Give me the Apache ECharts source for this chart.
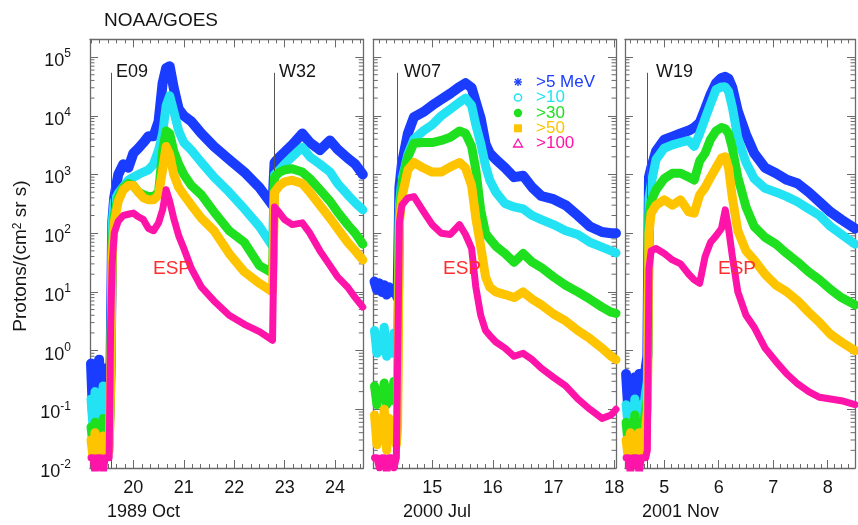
<!DOCTYPE html>
<html>
<head>
<meta charset="utf-8">
<title>NOAA/GOES proton events</title>
<script src="https://cdn.jsdelivr.net/npm/echarts@6/dist/echarts.min.js"></script>
<style>
  html, body { margin: 0; padding: 0; background: #fff; }
  #chart { width: 858px; height: 525px; }
</style>
</head>
<body>
<div id="chart"></div>
<script>
// channel names and colours (legend order)
const channelNames = ['>5 MeV', '>10', '>30', '>50', '>100'];
const channelColors = ['#1a3cff', '#22e2f4', '#1ee01e', '#ffc400', '#ff14aa'];

// ---- 1989 Oct ----
const p1Days = [19.16, 19.2, 19.24, 19.28, 19.32, 19.36, 19.4, 19.44, 19.48, 19.52,
  19.55, 19.58, 19.62, 19.7, 19.8, 19.9, 20.0, 20.1, 20.2, 20.3, 20.4, 20.5,
  20.58, 20.65, 20.72, 20.8, 20.9, 21.0, 21.15, 21.35, 21.6, 21.9, 22.2, 22.5,
  22.76, 22.8, 22.9, 23.0, 23.15, 23.35, 23.5, 23.7, 23.9, 24.05, 24.25, 24.4, 24.55];
const p1Gt5 = [0.6, 0.08, 0.4, 0.1, 0.7, 0.06, 0.5, 0.12, 0.3, 0.07,
  0.8, 150, 400, 1000, 1500, 1300, 2300, 2800, 3500, 4500, 4500, 8000,
  3.6e4, 6.5e4, 7e4, 3e4, 1.3e4, 1e4, 8000, 5000, 3000, 1800, 1100, 600,
  300, 1600, 2000, 2400, 3200, 5000, 3500, 2600, 3800, 2700, 1900, 1500, 1000];
const p1Gt10 = [0.15, 0.05, 0.2, 0.06, 0.12, 0.04, 0.25, 0.07, 0.1, 0.05,
  0.3, 150, 350, 480, 620, 800, 900, 1000, 1100, 1200, 1500, 2600,
  5000, 1.5e4, 2.2e4, 1.2e4, 5500, 3500, 2600, 1600, 900, 500, 260, 130,
  60, 1000, 1200, 1500, 2000, 2900, 2000, 1500, 1100, 700, 450, 330, 250];
const p1Gt30 = [0.05, 0.025, 0.06, 0.03, 0.04, 0.02, 0.07, 0.03, 0.05, 0.025,
  0.2, 60, 200, 400, 600, 700, 650, 500, 450, 420, 420, 500,
  2500, 5500, 5000, 2500, 1500, 1000, 650, 450, 230, 110, 70, 28,
  21, 900, 1100, 1200, 1250, 1100, 850, 550, 350, 230, 140, 100, 65];
const p1Gt50 = [0.03, 0.015, 0.04, 0.02, 0.025, 0.015, 0.035, 0.02, 0.03, 0.02,
  0.3, 40, 150, 350, 550, 650, 650, 500, 400, 370, 370, 450,
  1200, 3000, 2200, 1000, 600, 450, 300, 180, 110, 45, 22, 14,
  10, 500, 650, 750, 800, 700, 500, 300, 180, 120, 70, 50, 35];
const p1Gt100 = [0.015, 0.015, 0.008, 0.015, 0.015, 0.015, 0.008, 0.015, 0.015, 0.015,
  3, 30, 100, 160, 200, 210, 220, 190, 170, 120, 110, 150,
  250, 550, 350, 180, 90, 55, 25, 12, 7, 4, 2.8, 2.1,
  1.5, 280, 220, 170, 140, 150, 100, 50, 28, 18, 12, 8, 5.5];
const p1FlareDays = [19.56, 22.79];
const p1FlareLow = [0.01, 1.4];

// ---- 2000 Jul ----
const p2Days = [14.05, 14.09, 14.13, 14.17, 14.21, 14.25, 14.29, 14.33, 14.37, 14.41,
  14.43, 14.46, 14.5, 14.6, 14.7, 14.85, 15.0, 15.15, 15.3, 15.45, 15.55,
  15.65, 15.72, 15.8, 15.88, 15.95, 16.05, 16.2, 16.35, 16.5, 16.65,
  16.8, 17.0, 17.2, 17.4, 17.6, 17.8, 17.95, 18.03];
const p2Gt5 = [15, 11, 14, 10, 13, 9, 12, 10, 11, 9,
  8, 600, 1500, 5000, 9500, 1.15e4, 1.5e4, 1.9e4, 2.4e4, 3.1e4, 3.6e4,
  3e4, 1.7e4, 9000, 3300, 2300, 1800, 1300, 900, 950, 600,
  430, 380, 300, 200, 130, 105, 100, 100];
const p2Gt10 = [2.2, 0.9, 1.8, 1.0, 2.5, 0.8, 1.5, 0.9, 2.0, 1.0,
  1.2, 300, 800, 2200, 4000, 5500, 7000, 1e4, 1.3e4, 1.7e4, 2e4,
  1.5e4, 7000, 3400, 1400, 800, 500, 320, 280, 260, 200,
  170, 140, 110, 95, 70, 58, 50, 46];
const p2Gt30 = [0.25, 0.12, 0.2, 0.15, 0.28, 0.12, 0.22, 0.14, 0.3, 0.15,
  0.2, 200, 700, 2000, 3400, 3500, 3500, 3800, 4300, 5500, 5000,
  3000, 1200, 250, 100, 80, 60, 45, 32, 45, 32,
  26, 18, 13, 10, 7.5, 5.5, 4.5, 4.3];
const p2Gt50 = [0.08, 0.025, 0.06, 0.03, 0.1, 0.02, 0.07, 0.03, 0.05, 0.025,
  0.05, 150, 400, 1200, 1600, 1300, 1100, 1100, 1350, 1600, 1300,
  650, 180, 60, 18, 12, 10, 9, 8, 10, 7.5,
  6, 4.2, 3.2, 2.2, 1.6, 1.1, 0.8, 0.7];
const p2Gt100 = [0.015, 0.015, 0.01, 0.015, 0.015, 0.008, 0.015, 0.015, 0.01, 0.015,
  0.015, 150, 300, 400, 420, 240, 140, 100, 95, 140, 95,
  55, 12, 4, 2.2, 1.8, 1.4, 1.1, 0.8, 0.9, 0.7,
  0.5, 0.35, 0.25, 0.15, 0.1, 0.07, 0.08, 0.1];
const p2FlareDays = [14.43];
const p2FlareLow = [0.01];

// ---- 2001 Nov ----
const p3Days = [4.3, 4.34, 4.38, 4.42, 4.46, 4.5, 4.54, 4.58, 4.62, 4.66,
  4.69, 4.72, 4.76, 4.85, 5.0, 5.15, 5.3, 5.45, 5.55, 5.65, 5.75,
  5.85, 5.95, 6.05, 6.12, 6.18, 6.25, 6.35, 6.5, 6.65, 6.85,
  7.05, 7.25, 7.45, 7.65, 7.85, 8.05, 8.25, 8.5];
const p3Gt5 = [0.4, 0.1, 0.3, 0.08, 0.35, 0.1, 0.4, 0.15, 0.3, 0.5,
  0.8, 900, 1300, 2500, 3900, 4400, 5000, 5600, 6300, 7600, 1.3e4,
  2.3e4, 3.6e4, 4.4e4, 4.6e4, 4.3e4, 3e4, 1.2e4, 4800, 2300, 1300,
  1050, 810, 700, 500, 340, 230, 170, 120];
const p3Gt10 = [0.12, 0.05, 0.1, 0.04, 0.15, 0.05, 0.12, 0.06, 0.1, 0.2,
  0.3, 400, 700, 1800, 2800, 3200, 3500, 3800, 3000, 5000, 9000,
  1.6e4, 2.8e4, 3.1e4, 3.1e4, 2.6e4, 1.4e4, 4200, 1600, 850, 580,
  500, 420, 340, 260, 200, 130, 95, 65];
const p3Gt30 = [0.06, 0.025, 0.05, 0.02, 0.08, 0.03, 0.06, 0.03, 0.05, 0.1,
  0.15, 200, 350, 550, 850, 1050, 1050, 900, 800, 1700, 2300,
  4000, 5500, 6300, 6000, 5000, 2800, 900, 280, 130, 85,
  65, 45, 32, 22, 16, 11, 8, 6];
const p3Gt50 = [0.03, 0.015, 0.04, 0.015, 0.025, 0.02, 0.04, 0.015, 0.03, 0.05,
  0.1, 100, 220, 300, 370, 300, 370, 230, 220, 450, 600,
  900, 1300, 1900, 2000, 1300, 400, 110, 50, 35, 20,
  13, 10, 7, 4.5, 3, 1.9, 1.4, 1.0];
const p3Gt100 = [0.015, 0.015, 0.008, 0.015, 0.015, 0.015, 0.008, 0.015, 0.015, 0.015,
  0.02, 25, 50, 55, 45, 35, 30, 20, 16, 14, 40,
  70, 90, 120, 250, 120, 40, 10, 4, 2.5, 1.1,
  0.65, 0.4, 0.27, 0.2, 0.16, 0.15, 0.14, 0.12];
const p3FlareDays = [4.69];
const p3FlareLow = [0.01];

const FONT = 'Liberation Sans, Arial, Helvetica, sans-serif';
const AXIS = '#6a6a6a';
const INK = '#151515';
const FLARE_TOP = 5.4e4;
const bandWidths = [10, 9, 9, 9, 7];

const panels = [
  { days: p1Days, flux: [p1Gt5, p1Gt10, p1Gt30, p1Gt50, p1Gt100], min: 19.14, max: 24.56,
    minorSplit: 6, left: 90, width: 273.3, flares: p1FlareDays, flareLow: p1FlareLow },
  { days: p2Days, flux: [p2Gt5, p2Gt10, p2Gt30, p2Gt50, p2Gt100], min: 14.03, max: 18.03,
    minorSplit: 8, left: 373.3, width: 242.7, flares: p2FlareDays, flareLow: p2FlareLow },
  { days: p3Days, flux: [p3Gt5, p3Gt10, p3Gt30, p3Gt50, p3Gt100], min: 4.28, max: 8.5,
    minorSplit: 8, left: 625, width: 254.5, flares: p3FlareDays, flareLow: p3FlareLow }
];

// log minor tick positions (2..9 x 10^n)
const yMinorTicks = [];
for (let e = -2; e < 5; e++) {
  for (let m = 2; m <= 9; m++) yMinorTicks.push(+(m * Math.pow(10, e)).toPrecision(3));
}

function xAxisFor(p, i, pos) {
  return {
    type: 'value', gridIndex: i, position: pos, min: p.min, max: p.max, splitNumber: 5,
    axisLine: { show: true, onZero: false, lineStyle: { color: AXIS, width: 1.3 } },
    axisTick: { show: true, inside: true, length: 8, lineStyle: { color: AXIS, width: 1 } },
    minorTick: { show: true, splitNumber: p.minorSplit, length: 4, lineStyle: { color: AXIS, width: 1 } },
    splitLine: { show: false },
    axisLabel: pos === 'bottom' ? {
      margin: 11, fontSize: 18, fontFamily: FONT, color: INK,
      formatter: v => Math.abs(v - Math.round(v)) < 1e-6 ? String(Math.round(v)) : ''
    } : { show: false }
  };
}

function yAxisFor(i, pos, labels) {
  return {
    type: 'log', logBase: 10, gridIndex: i, position: pos, min: 0.01, max: 2e5, splitNumber: 7,
    axisLine: { show: true, onZero: false, lineStyle: { color: AXIS, width: 1.3 } },
    axisTick: { show: true, inside: true, length: 8, lineStyle: { color: AXIS, width: 1 } },
    minorTick: { show: false },
    splitLine: { show: false },
    axisLabel: labels ? {
      margin: 19,
      formatter: v => {
        const e = Math.log10(v), r = Math.round(e);
        return Math.abs(e - r) > 1e-6 ? '' : '{b|10}{s|' + r + '}';
      },
      rich: {
        b: { fontSize: 18, fontFamily: FONT, color: INK, lineHeight: 18, padding: [8, 0, 0, 0] },
        s: { fontSize: 12, fontFamily: FONT, color: INK, lineHeight: 12, verticalAlign: 'top' }
      }
    } : { show: false }
  };
}

const grid = [], xAxis = [], yAxis = [], series = [];
panels.forEach((p, i) => {
  grid.push({ left: p.left, top: 39.4, width: p.width, height: 428.6 });
  xAxis.push(xAxisFor(p, i, 'bottom'), xAxisFor(p, i, 'top'));
  yAxis.push(yAxisFor(i, 'left', i === 0), yAxisFor(i, 'right', false));

  // log minor ticks on both sides of the frame
  series.push({
    type: 'custom', xAxisIndex: 2 * i, yAxisIndex: 2 * i, silent: true, z: 1,
    data: yMinorTicks.map(v => [p.min, v]),
    renderItem: (params, api) => {
      const y = api.coord([api.value(0), api.value(1)])[1];
      const cs = params.coordSys;
      return {
        type: 'group', children: [
          { type: 'line', shape: { x1: cs.x, y1: y, x2: cs.x + 4.5, y2: y }, style: { stroke: AXIS, lineWidth: 1 } },
          { type: 'line', shape: { x1: cs.x + cs.width, y1: y, x2: cs.x + cs.width - 4.5, y2: y }, style: { stroke: AXIS, lineWidth: 1 } }
        ]
      };
    }
  });

  channelNames.forEach((name, c) => {
    const s = {
      name: name, type: 'line', xAxisIndex: 2 * i, yAxisIndex: 2 * i,
      data: p.days.map((d, k) => [d, p.flux[c][k]]),
      showSymbol: false, clip: true, z: 3 + c,
      lineStyle: { color: channelColors[c], width: bandWidths[c], join: 'round', cap: 'round' },
      itemStyle: { color: channelColors[c] }
    };
    if (c === 0) {
      s.markLine = {
        silent: true, symbol: 'none', label: { show: false },
        lineStyle: { color: '#555', width: 1, type: 'solid' },
        data: p.flares.map((d, k) => [{ coord: [d, p.flareLow[k]] }, { coord: [d, FLARE_TOP] }])
      };
    }
    series.push(s);
  });
});

const txt = (x, y, text, size, color, extra) => Object.assign({
  type: 'text', x: x, y: y, silent: true, z: 50,
  style: Object.assign({ text: text, fontSize: size, fontFamily: FONT, fill: color, verticalAlign: 'top' }, extra || {})
});

const legendRows = [82, 97.5, 113, 128.3, 143.5];
const legendIcons = [
  { type: 'group', x: 518, y: legendRows[0], children: [
    { type: 'line', shape: { x1: -4, y1: 0, x2: 4, y2: 0 }, style: { stroke: channelColors[0], lineWidth: 1.4 } },
    { type: 'line', shape: { x1: 0, y1: -4, x2: 0, y2: 4 }, style: { stroke: channelColors[0], lineWidth: 1.4 } },
    { type: 'line', shape: { x1: -3, y1: -3, x2: 3, y2: 3 }, style: { stroke: channelColors[0], lineWidth: 1.4 } },
    { type: 'line', shape: { x1: 3, y1: -3, x2: -3, y2: 3 }, style: { stroke: channelColors[0], lineWidth: 1.4 } }
  ] },
  { type: 'circle', shape: { cx: 518, cy: legendRows[1], r: 3.6 }, style: { fill: 'none', stroke: channelColors[1], lineWidth: 1.5 } },
  { type: 'circle', shape: { cx: 518, cy: legendRows[2], r: 4.2 }, style: { fill: channelColors[2] } },
  { type: 'rect', shape: { x: 514, y: legendRows[3] - 4, width: 8, height: 8 }, style: { fill: channelColors[3] } },
  { type: 'polygon', shape: { points: [[518, legendRows[4] - 4.5], [522.5, legendRows[4] + 3.5], [513.5, legendRows[4] + 3.5]] },
    style: { fill: 'none', stroke: channelColors[4], lineWidth: 1.3 } }
];

const graphic = [
  txt(104, 11, 'NOAA/GOES', 19, INK),
  txt(21, 256, 'Protons/(cm{s|2} sr s)', 19, INK, {
    align: 'center', verticalAlign: 'middle',
    rich: { s: { fontSize: 12, fontFamily: FONT, fill: INK, verticalAlign: 'top', lineHeight: 12 } }
  }),
  txt(107, 503.5, '1989 Oct', 18, INK),
  txt(403, 503.5, '2000 Jul', 18, INK),
  txt(642, 503.5, '2001 Nov', 18, INK),
  txt(116, 63.5, 'E09', 18, INK),
  txt(279, 63.5, 'W32', 18, INK),
  txt(404, 63.5, 'W07', 18, INK),
  txt(656, 63.5, 'W19', 18, INK),
  txt(153, 259.5, 'ESP', 19, '#ff2d2d'),
  txt(443, 259.5, 'ESP', 19, '#ff2d2d'),
  txt(718, 259.5, 'ESP', 19, '#ff2d2d')
].concat(legendIcons.map(g => Object.assign({ silent: true, z: 50 }, g)))
 .concat(channelNames.map((n, c) => txt(536, legendRows[c], n, 17, channelColors[c], { verticalAlign: 'middle' })));

// rotate the y-axis title
graphic[1].rotation = Math.PI / 2;

const chart = echarts.init(document.getElementById('chart'), null, { renderer: 'canvas' });
chart.setOption({
  animation: false,
  backgroundColor: '#ffffff',
  grid: grid,
  xAxis: xAxis,
  yAxis: yAxis,
  series: series,
  graphic: graphic
});
</script>
</body>
</html>
